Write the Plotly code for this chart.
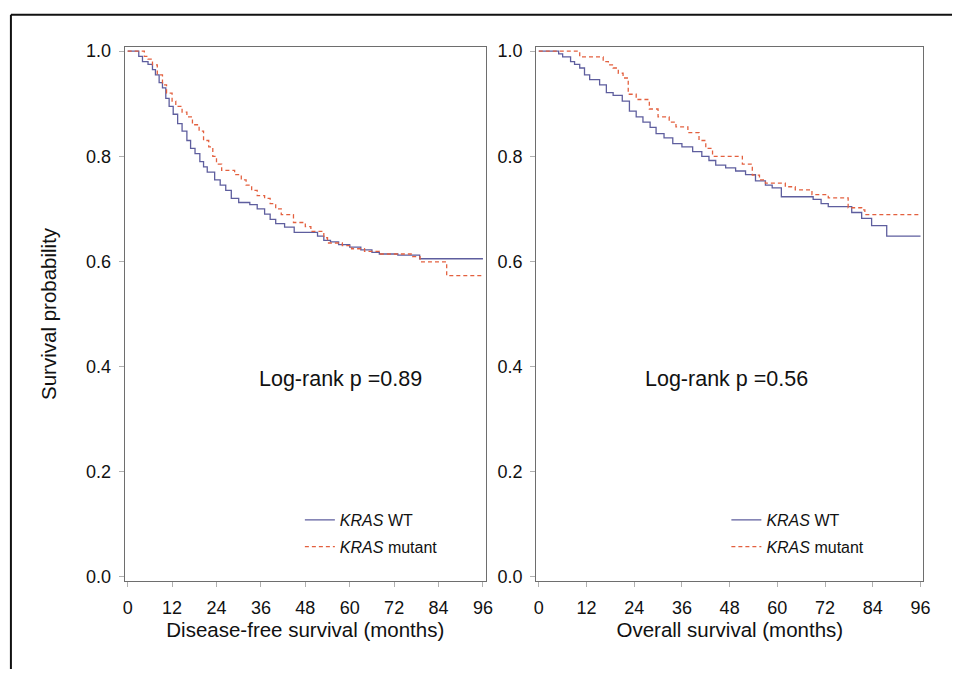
import plotly.graph_objects as go

# ---- Data ----
dfs_wt_t = [0, 3, 4, 5.5, 6.7, 7.5, 8.5, 9.4, 10.3, 11.2, 12.3, 13.5, 14.7, 16, 17, 18.2, 19.5, 20.5,
            21.5, 23.5, 25, 26.5, 28, 30, 33, 35, 37, 38.5, 40, 42.4, 45, 51.3, 53, 54.8, 57, 60, 63,
            66, 68, 73, 78.9, 96]
dfs_wt_s = [1.0, 0.99, 0.98, 0.975, 0.965, 0.955, 0.94, 0.93, 0.91, 0.895, 0.88, 0.862, 0.848, 0.83,
            0.815, 0.805, 0.79, 0.78, 0.77, 0.755, 0.745, 0.735, 0.72, 0.712, 0.708, 0.70, 0.69, 0.68,
            0.672, 0.665, 0.655, 0.648, 0.64, 0.637, 0.632, 0.627, 0.622, 0.617, 0.614, 0.612, 0.605,
            0.605]

dfs_mut_t = [0, 4.5, 5.5, 6.7, 8, 9.4, 10.5, 12, 13, 14.7, 16, 17.5, 19.3, 20.5, 21.9, 23, 24, 25.4,
             28.9, 30.7, 32, 33.5, 35, 37, 38.5, 40, 41.5, 44.8, 48, 49.5, 53, 54, 58, 60.5, 64, 68,
             77, 79, 86.2, 96]
dfs_mut_s = [1.0, 0.99, 0.985, 0.974, 0.955, 0.936, 0.92, 0.905, 0.895, 0.884, 0.875, 0.86, 0.848,
             0.83, 0.818, 0.80, 0.785, 0.773, 0.765, 0.755, 0.745, 0.735, 0.725, 0.72, 0.71, 0.70,
             0.689, 0.674, 0.666, 0.657, 0.645, 0.635, 0.63, 0.624, 0.619, 0.614, 0.609, 0.599,
             0.573, 0.573]

os_wt_t = [0, 5, 6, 8, 9, 10.3, 11.5, 12.8, 15.3, 17, 18.7, 21, 22.8, 24.5, 26.2, 28, 29.5, 31.5,
           33.7, 36, 38.7, 41, 42.8, 44.5, 47, 49.5, 52, 54.5, 57, 58.7, 61, 69, 71, 72.8, 78.7,
           81.2, 83.7, 87.5, 96]
os_wt_s = [1.0, 0.995, 0.989, 0.98, 0.975, 0.968, 0.955, 0.946, 0.936, 0.921, 0.916, 0.905, 0.886,
           0.875, 0.865, 0.855, 0.843, 0.835, 0.824, 0.818, 0.809, 0.80, 0.792, 0.783, 0.778,
           0.772, 0.765, 0.753, 0.745, 0.74, 0.723, 0.718, 0.71, 0.704, 0.693, 0.682, 0.668,
           0.648, 0.648]

os_mut_t = [0, 10.3, 16.2, 17.5, 18.7, 20, 21.2, 22.5, 24.5, 27.8, 30, 32.8, 34.5, 37.5, 40.3, 42,
            43.7, 51.2, 53.7, 55.5, 57, 62, 64.5, 68.7, 72.8, 77.8, 81.2, 82, 96]
os_mut_s = [1.0, 0.989, 0.98, 0.974, 0.968, 0.958, 0.949, 0.918, 0.908, 0.89, 0.875, 0.865, 0.856,
            0.845, 0.83, 0.815, 0.80, 0.785, 0.764, 0.755, 0.749, 0.742, 0.736, 0.727, 0.721,
            0.702, 0.698, 0.689, 0.689]

x_ticks = [0, 12, 24, 36, 48, 60, 72, 84, 96]
y_ticks = [0.0, 0.2, 0.4, 0.6, 0.8, 1.0]
y_tick_labels = ["0.0", "0.2", "0.4", "0.6", "0.8", "1.0"]
series_names = ["<i>KRAS</i> WT", "<i>KRAS</i> mutant"]
p_values = ["Log-rank p =0.89", "Log-rank p =0.56"]
x_titles = ["Disease-free survival (months)", "Overall survival (months)"]
y_title = "Survival probability"

# ---- Styling ----
W, H = 959, 675
WT_COLOR = "#5e5e9e"
MUT_COLOR = "#e3603f"
FONT = "Liberation Sans, Arial, sans-serif"

def px_x(p):
    return p / W

def px_y(p):
    return 1 - p / H

fig = go.Figure()

panels = [
    (dfs_wt_t, dfs_wt_s, dfs_mut_t, dfs_mut_s, "x", "y", "legend"),
    (os_wt_t, os_wt_s, os_mut_t, os_mut_s, "x2", "y2", "legend2"),
]
for i, (wt_t, wt_s, mt_t, mt_s, xa, ya, lg) in enumerate(panels):
    fig.add_trace(go.Scatter(
        x=wt_t, y=wt_s, mode="lines", line_shape="hv",
        line=dict(color=WT_COLOR, width=1.3),
        name=series_names[0], xaxis=xa, yaxis=ya, legend=lg,
        legendgroup=f"wt{i}", showlegend=True))
    fig.add_trace(go.Scatter(
        x=mt_t, y=mt_s, mode="lines", line_shape="hv",
        line=dict(color=MUT_COLOR, width=1.3, dash="4px,3px"),
        name=series_names[1], xaxis=xa, yaxis=ya, legend=lg,
        legendgroup=f"mut{i}", showlegend=True))

axis_common = dict(
    showgrid=False, zeroline=False, showline=True, linecolor="#6e6e6e", linewidth=1.3,
    mirror=True, ticks="outside", ticklen=5, tickcolor="#b0b0b0", tickwidth=1.3,
    tickfont=dict(family=FONT, size=18, color="#111111"),
)

y_dom = [px_y(585), px_y(42)]
y_rng = [-4 / 535, 1 + 4 / 535]

fig.update_layout(
    width=W, height=H,
    margin=dict(l=0, r=0, t=0, b=0),
    paper_bgcolor="white", plot_bgcolor="white",
    font=dict(family=FONT, color="#111111"),
    xaxis=dict(axis_common, domain=[px_x(123), px_x(488)], range=[-0.8, 96.8],
               tickvals=x_ticks, ticklabelstandoff=6,
               title=dict(text=x_titles[0], font=dict(family=FONT, size=20.5), standoff=4)),
    xaxis2=dict(axis_common, domain=[px_x(539), px_x(930)], range=[-0.6, 96.7],
                tickvals=x_ticks, ticklabelstandoff=6, anchor="y2",
                title=dict(text=x_titles[1], font=dict(family=FONT, size=20.5), standoff=4)),
    yaxis=dict(axis_common, domain=y_dom, range=y_rng, tickvals=y_ticks,
               ticktext=y_tick_labels, ticklabelstandoff=4,
               title=dict(text=y_title, font=dict(family=FONT, size=20.5), standoff=23)),
    yaxis2=dict(axis_common, domain=y_dom, range=y_rng, tickvals=y_ticks,
                ticktext=y_tick_labels, ticklabelstandoff=4, anchor="x2"),
    legend=dict(x=px_x(300), y=px_y(506), xanchor="left", yanchor="top",
                bgcolor="rgba(0,0,0,0)", font=dict(family=FONT, size=16),
                traceorder="grouped", tracegroupgap=3, itemwidth=30),
    legend2=dict(x=px_x(731), y=px_y(506), xanchor="left", yanchor="top",
                 bgcolor="rgba(0,0,0,0)", font=dict(family=FONT, size=16),
                 traceorder="grouped", tracegroupgap=3, itemwidth=30),
    showlegend=True,
)

fig.add_annotation(text=p_values[0], xref="x", yref="y", x=57.5, y=0.377,
                   showarrow=False, font=dict(family=FONT, size=21.5, color="#111111"))
fig.add_annotation(text=p_values[1], xref="x2", yref="y2", x=47.2, y=0.377,
                   showarrow=False, font=dict(family=FONT, size=21.5, color="#111111"))

# outer figure frame (top and left edges)
fig.add_shape(type="line", xref="paper", yref="paper", x0=px_x(8), y0=px_y(9), x1=1, y1=px_y(9),
              line=dict(color="#111111", width=2))
fig.add_shape(type="line", xref="paper", yref="paper", x0=px_x(8), y0=px_y(9), x1=px_x(8), y1=0,
              line=dict(color="#111111", width=2))

# pin the figure to the top-left corner of the window so it fills it exactly
page_fix = (
    "document.documentElement.style.margin='0';"
    "document.documentElement.style.overflow='hidden';"
    "document.body.style.margin='0';"
    "document.body.style.overflow='hidden';"
    "var d=document.getElementById('{plot_id}');"
    "d.style.position='fixed';d.style.left='0px';d.style.top='0px';"
)
fig.write_html("out.html", config={"displayModeBar": False}, post_script=page_fix)
